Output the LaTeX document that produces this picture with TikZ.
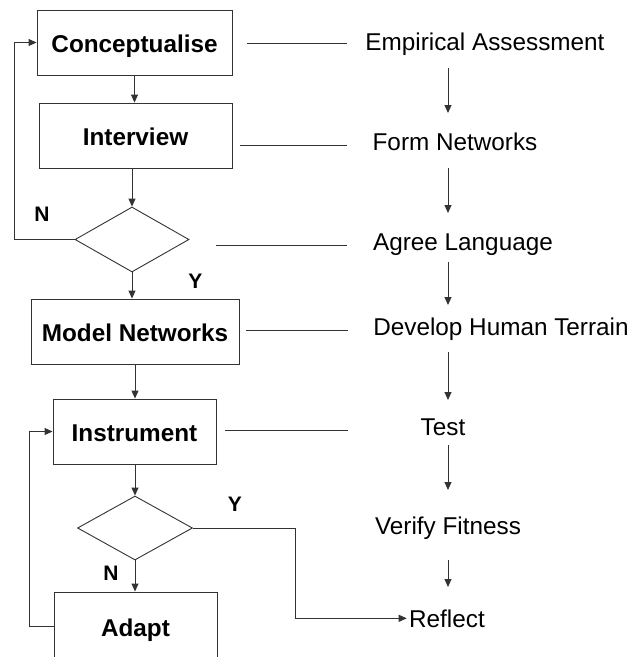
\documentclass[tikz,border=0pt]{standalone}
\usepackage{fontspec}
\setmainfont{Liberation Sans}
\usetikzlibrary{arrows.meta,shapes.geometric,calc}

\begin{document}
\begin{tikzpicture}[x=1pt,y=-1pt,
  line width=0.9pt,
  box/.style={draw=black!80, rectangle, inner sep=0pt,
    font=\fontsize{24.3pt}{29pt}\selectfont\bfseries,
    text height=20.5pt, text depth=0pt},
  decision/.style={draw=black!80, diamond, inner sep=0pt},
  stage/.style={inner sep=0pt, anchor=base,
    font=\fontsize{24.3pt}{29pt}\selectfont},
  yn/.style={inner sep=0pt, anchor=base,
    font=\fontsize{21pt}{25pt}\selectfont\bfseries},
  arr/.style={draw=black!80, -{Triangle[length=8pt,width=7pt]}},
  link/.style={draw=black!80},
]
\useasboundingbox (0,0) rectangle (633,657);
\clip (0,0) rectangle (633,657);

% guide coordinates for the loops and the right-hand column
\coordinate (nl) at (14,0);
\coordinate (al) at (29,0);
\coordinate (yl) at (295,0);
\coordinate (ax) at (448,0);

% process boxes and decisions
\node[box, minimum width=195pt, minimum height=65pt] (concept) at (134.5,42.5) {Conceptualise};
\node[box, minimum width=193pt, minimum height=65pt] (interview) at (135.5,135.5) {Interview};
\node[decision, minimum width=114pt, minimum height=65pt] (d1) at (132,239.5) {};
\node[box, minimum width=208pt, minimum height=65pt] (model) at (135,331.5) {Model Networks};
\node[box, minimum width=163pt, minimum height=65pt] (instr) at (134.5,431.5) {Instrument};
\node[decision, minimum width=115pt, minimum height=64pt] (d2) at (135,528) {};
\node[box, minimum width=163pt, minimum height=68pt] (adapt) at (135.5,626) {Adapt};

% stages on the right
\node[stage] (emp) at (485,50) {Empirical Assessment};
\node[stage] (form) at (455,150) {Form Networks};
\node[stage] (agree) at (463,250) {Agree Language};
\node[stage] (dev) at (501,335) {Develop Human Terrain};
\node[stage] (test) at (443,435) {Test};
\node[stage] (verify) at (448,534) {Verify Fitness};
\node[stage] (reflect) at (447,627) {Reflect};

% decision labels
\node[yn] (n1) at (42,221) {N};
\node[yn] (y1) at (195.5,288) {Y};
\node[yn] (y2) at (235,511) {Y};
\node[yn] (n2) at (111,580) {N};

% main flow
\draw[arr] (concept.south) -- (concept.south |- interview.north);
\draw[arr] (interview.south -| d1.north) -- (d1.north);
\draw[arr] (d1.south) -- (d1.south |- model.north);
\draw[arr] (model.south) -- (model.south |- instr.north);
\draw[arr] (instr.south -| d2.north) -- (d2.north);
\draw[arr] (d2.south) -- (d2.south |- adapt.north);

% loops back
\draw[arr] (d1.west) -- (d1.west -| nl) |- (concept.west);
\draw[arr] (adapt.west) -- (adapt.west -| al) |- (instr.west);
\draw[arr, shorten >=2pt] (d2.east) -- (d2.east -| yl) |- (reflect.west);

% links from the boxes to the stages
\draw[link] ($(concept.east)+(15,0.5)$) -- ++(100,0);
\draw[link] ($(interview.east)+(8,9.5)$) -- ++(107,0);
\draw[link] ($(d1.east)+(27,5.5)$) -- ++(131,0);
\draw[link] ($(model.east)+(7,-1.5)$) -- ++(102,0);
\draw[link] ($(instr.east)+(9,-1.5)$) -- ++(123,0);

% stage sequence
\draw[arr, shorten <=18pt, shorten >=37pt] (emp.base -| ax) -- (form.base -| ax);
\draw[arr, shorten <=18pt, shorten >=37pt] (form.base -| ax) -- (agree.base -| ax);
\draw[arr, shorten <=12pt, shorten >=30pt] (agree.base -| ax) -- (dev.base -| ax);
\draw[arr, shorten <=17pt, shorten >=35pt] (dev.base -| ax) -- (test.base -| ax);
\draw[arr, shorten <=10pt, shorten >=44pt] (test.base -| ax) -- (verify.base -| ax);
\draw[arr, shorten <=26pt, shorten >=40pt] (verify.base -| ax) -- (reflect.base -| ax);
\end{tikzpicture}
\end{document}
